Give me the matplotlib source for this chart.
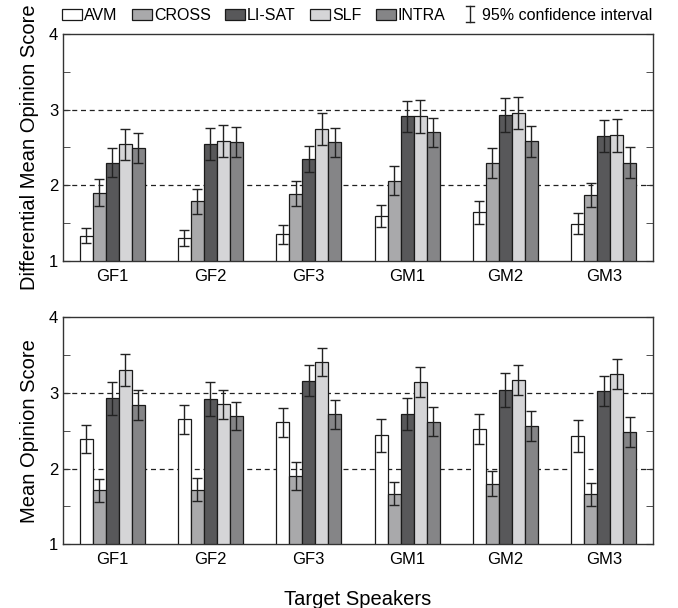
import matplotlib
matplotlib.use("Agg")
import matplotlib.pyplot as plt
import numpy as np
from matplotlib.legend_handler import HandlerBase
from matplotlib.lines import Line2D
from matplotlib.patches import Patch

plt.rcParams['font.family'] = ['Liberation Sans', 'DejaVu Sans']

speakers = ["GF1", "GF2", "GF3", "GM1", "GM2", "GM3"]
systems = ["AVM", "CROSS", "LI-SAT", "SLF", "INTRA"]
colors = ["#ffffff", "#a9a9ab", "#58585a", "#d5d5d7", "#858587"]

# Differential MOS (top)
dmos = {
    "AVM":    [1.33, 1.30, 1.35, 1.59, 1.64, 1.49],
    "CROSS":  [1.90, 1.79, 1.89, 2.06, 2.29, 1.87],
    "LI-SAT": [2.30, 2.55, 2.35, 2.91, 2.93, 2.65],
    "SLF":    [2.54, 2.59, 2.74, 2.91, 2.96, 2.66],
    "INTRA":  [2.49, 2.57, 2.57, 2.70, 2.58, 2.30],
}
dmos_ci = {
    "AVM":    [0.10, 0.11, 0.13, 0.145, 0.15, 0.14],
    "CROSS":  [0.18, 0.165, 0.16, 0.19, 0.20, 0.16],
    "LI-SAT": [0.19, 0.21, 0.17, 0.21, 0.22, 0.21],
    "SLF":    [0.20, 0.21, 0.21, 0.22, 0.21, 0.22],
    "INTRA":  [0.20, 0.20, 0.19, 0.19, 0.21, 0.20],
}
# MOS (bottom)
mos = {
    "AVM":    [2.39, 2.65, 2.61, 2.44, 2.52, 2.43],
    "CROSS":  [1.71, 1.72, 1.90, 1.67, 1.80, 1.66],
    "LI-SAT": [2.93, 2.92, 3.16, 2.72, 3.04, 3.03],
    "SLF":    [3.30, 2.85, 3.41, 3.15, 3.17, 3.25],
    "INTRA":  [2.84, 2.70, 2.72, 2.62, 2.56, 2.48],
}
mos_ci = {
    "AVM":    [0.185, 0.195, 0.19, 0.22, 0.20, 0.21],
    "CROSS":  [0.155, 0.155, 0.185, 0.155, 0.165, 0.15],
    "LI-SAT": [0.215, 0.22, 0.205, 0.21, 0.22, 0.20],
    "SLF":    [0.21, 0.195, 0.19, 0.20, 0.20, 0.20],
    "INTRA":  [0.195, 0.185, 0.19, 0.19, 0.195, 0.20],
}

fig = plt.figure(figsize=(6.78, 6.08), dpi=100)
ax1 = fig.add_axes([0.0929, 0.571, 0.870, 0.373])
ax2 = fig.add_axes([0.0929, 0.105, 0.870, 0.373])

x = np.arange(1, len(speakers) + 1)
bw = 0.132

def draw(ax, vals, cis, ylabel):
    for i, s in enumerate(systems):
        pos = x + (i - 2) * bw
        ax.bar(pos, np.array(vals[s]) - 1, bottom=1, width=bw, color=colors[i],
               edgecolor="#1a1a1a", linewidth=0.9, zorder=3)
        ax.errorbar(pos, vals[s], yerr=cis[s], fmt="none", ecolor="#222222",
                    elinewidth=1.0, capsize=3.5, capthick=1.0, zorder=4)
    for yv in [2, 3]:
        ax.axhline(yv, color="#222222", linestyle=(0, (4, 3)), linewidth=0.9, zorder=1)
    ax.set_xlim(0.5, 6.5)
    ax.set_ylim(1, 4)
    ax.set_yticks([1, 2, 3, 4])
    ax.set_yticks([1.5, 2.5, 3.5], minor=True)
    ax.set_xticks(x)
    ax.set_xticklabels(speakers, fontsize=12)
    ax.tick_params(axis="x", length=0, pad=6)
    ax.tick_params(axis="y", which="both", direction="in", left=True, right=True,
                   length=5, labelsize=12, color="#333333")
    for sp in ax.spines.values():
        sp.set_color("#333333")
        sp.set_linewidth(1.0)
    ax.set_ylabel(ylabel, fontsize=14.5, labelpad=7)

draw(ax1, dmos, dmos_ci, "Differential Mean Opinion Score")
draw(ax2, mos, mos_ci, "Mean Opinion Score")
ax2.set_xlabel("Target Speakers", fontsize=14.5, labelpad=16)


class HandlerCI(HandlerBase):
    def create_artists(self, legend, orig_handle, xdescent, ydescent, width,
                       height, fontsize, trans):
        cx = xdescent + width / 2.0
        y0 = -ydescent - 0.25 * height
        y1 = -ydescent + 1.25 * height
        c = 0.18 * width
        lines = [
            Line2D([cx, cx], [y0, y1], color="#222222", lw=1.0),
            Line2D([cx - c, cx + c], [y0, y0], color="#222222", lw=1.0),
            Line2D([cx - c, cx + c], [y1, y1], color="#222222", lw=1.0),
        ]
        for ln in lines:
            ln.set_transform(trans)
        return lines


handles = [Patch(facecolor=colors[i], edgecolor="#1a1a1a", linewidth=0.9)
           for i in range(len(systems))]
ci_handle = Line2D([], [])
fig.legend(handles + [ci_handle], systems + ["95% confidence interval"],
           handler_map={Line2D: HandlerCI()},
           loc="center", bbox_to_anchor=(0.527, 0.975), ncol=6, frameon=False,
           fontsize=11.5, handlelength=1.25, handleheight=0.7, handletextpad=0.12,
           columnspacing=0.9, borderaxespad=0)

fig.savefig("out.png", dpi=100)
